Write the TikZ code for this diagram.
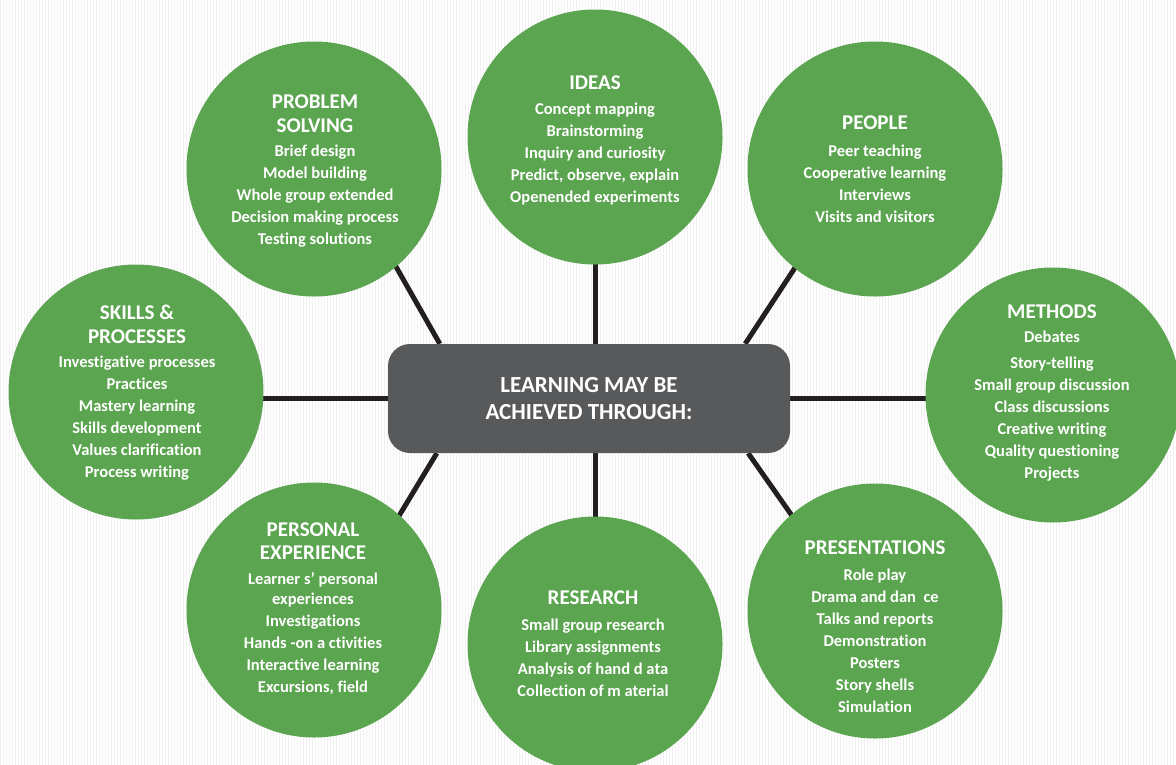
\documentclass[tikz,border=0pt]{standalone}
\usepackage{fontspec}
\setmainfont{Carlito}[Ligatures={NoCommon,NoContextual}]
\usetikzlibrary{patterns,backgrounds}
\definecolor{bubblegreen}{HTML}{5CA550}
\definecolor{boxgray}{HTML}{58595B}
\definecolor{linkblack}{HTML}{231F20}
\tikzset{
  bubble/.style={circle, fill=bubblegreen, minimum size=255pt, inner sep=0pt},
  head/.style={text=white, align=center, font=\bfseries\fontsize{21}{23.5}\selectfont, inner sep=0pt},
  items/.style={text=white, align=center, font=\bfseries\fontsize{16.5}{22}\selectfont, inner sep=0pt},
  hubbox/.style={rectangle, rounded corners=22pt, fill=boxgray, minimum width=402pt, minimum height=109pt,
    text=white, align=center, font=\bfseries\fontsize{23}{27}\selectfont},
  link/.style={draw=linkblack, line width=5pt, shorten >=-6pt},
}
\begin{document}
\begin{tikzpicture}[x=1pt,y=-1pt]
\useasboundingbox (0,0) rectangle (1176,764);

% bubbles
\node[bubble] (ps) at (314,169) {};
\node[bubble] (ideas) at (595,137) {};
\node[bubble] (people) at (875,169) {};
\node[bubble] (skills) at (136,392) {};
\node[bubble] (methods) at (1053,395) {};
\node[bubble] (pers) at (314,610) {};
\node[bubble] (research) at (595,644) {};
\node[bubble] (pres) at (875,611) {};

% hub
\node[hubbox] (hub) at (589,398.5) {LEARNING MAY BE\\ACHIEVED THROUGH:};

% texts
\node[head] (ps-h) at (315,113.5) {PROBLEM\\SOLVING};
\node[items] (ps-i) at (315,196) {Brief design\\Model building\\Whole group extended\\Decision making process\\Testing solutions};

\node[head] (ideas-h) at (595,83) {IDEAS};
\node[items] (ideas-i) at (595,154) {Concept mapping\\Brainstorming\\Inquiry and curiosity\\Predict, observe, explain\\Openended experiments};

\node[head] (people-h) at (875,123) {PEOPLE};
\node[items] (people-i) at (875,184) {Peer teaching\\Cooperative learning\\Interviews\\Visits and visitors};

\node[head] (skills-h) at (137,324.5) {SKILLS \&\\PROCESSES};
\node[items] (skills-i) at (137,418) {Investigative processes\\Practices\\Mastery learning\\Skills development\\Values clarification\\Process writing};

\node[head] (methods-h) at (1052,312) {METHODS};
\node[items] (methods-i) at (1052,406) {Debates\\[4pt]Story-telling\\Small group discussion\\Class discussions\\Creative writing\\Quality questioning\\Projects};

\node[head] (pers-h) at (313,541) {PERSONAL\\EXPERIENCE};
\node[items] (pers-i) at (313,633.5) {Learner s' personal\\[-2pt]experiences\\Investigations\\Hands -on a ctivities\\Interactive learning\\Excursions, field};

\node[head] (research-h) at (593,598) {RESEARCH};
\node[items] (research-i) at (593,658) {Small group research\\Library assignments\\Analysis of hand d ata\\Collection of m aterial};

\node[head] (pres-h) at (875,548) {PRESENTATIONS};
\node[items] (pres-i) at (875,641) {Role play\\Drama and dan\ \ ce\\Talks and reports\\Demonstration\\Posters\\Story shells\\Simulation};

% background and connectors
\begin{scope}[on background layer]
  \fill[white] (0,0) rectangle (1176,764);
  \fill[pattern=vertical lines, pattern color=black!6] (0,0) rectangle (1176,764);
  \draw[link] (hub.north -| ideas.south) -- (ideas.south);
  \draw[link] (hub.south -| research.north) -- (research.north);
  \draw[link] (hub.west) -- (hub.west -| skills.east);
  \draw[link] (hub.east) -- (hub.east -| methods.west);
  \draw[link] ([xshift=52pt]hub.north west) -- (ps.-50);
  \draw[link] ([xshift=-45pt]hub.north east) -- (people.-129);
  \draw[link] ([xshift=49pt]hub.south west) -- (pers.48);
  \draw[link] ([xshift=-42pt]hub.south east) -- (pres.131);
\end{scope}
\end{tikzpicture}
\end{document}
